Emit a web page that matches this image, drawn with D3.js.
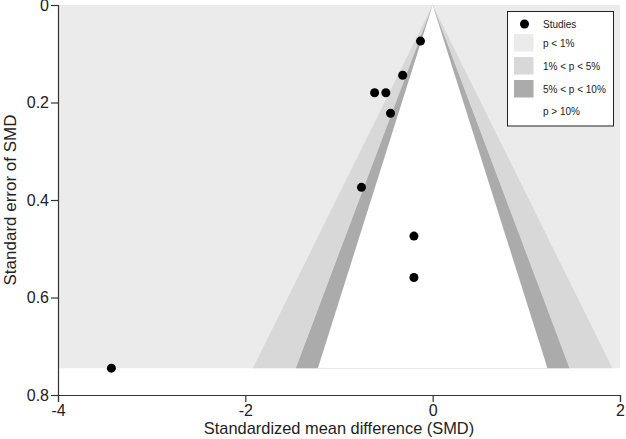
<!DOCTYPE html>
<html><head><meta charset="utf-8">
<script src="https://cdn.jsdelivr.net/npm/d3@7"></script>
<style>body{margin:0;background:#fff;} text{font-family:"Liberation Sans",Arial,sans-serif;}</style>
</head><body><svg id="c" width="626" height="439"></svg>
<script>
const studySMD = [-0.13, -0.32, -0.62, -0.50, -0.45, -0.76, -0.20, -0.20, -3.43];
const studySE  = [0.074, 0.144, 0.180, 0.180, 0.222, 0.374, 0.474, 0.559, 0.745];
const xTicks = [-4, -2, 0, 2];
const yTicks = [0, 0.2, 0.4, 0.6, 0.8];
const contourZ = [2.576, 1.96, 1.645];
const legendLabels = ["Studies", "p < 1%", "1% < p < 5%", "5% < p < 10%", "p > 10%"];
const fills = ["#ebebeb", "#d8d8d8", "#ababab", "#ffffff"];

const svg = d3.select("#c");
const x = d3.scaleLinear().domain([-4, 2]).range([58, 620]);
const y = d3.scaleLinear().domain([0, 0.8]).range([5, 395]);
const seMax = d3.max(studySE);

// background (p<1%)
svg.append("rect").attr("x", x(-4)).attr("y", y(0))
  .attr("width", x(2) - x(-4)).attr("height", y(seMax) - y(0)).attr("fill", fills[0]);

contourZ.forEach((z, i) => {
  const pts = [[0, 0], [-z * seMax, seMax], [z * seMax, seMax]];
  svg.append("polygon")
    .attr("points", pts.map(p => [x(p[0]), y(p[1])].join(",")).join(" "))
    .attr("fill", fills[i + 1]);
});

// axes
const xAxis = svg.append("g").attr("transform", `translate(0,${y(0.8)})`)
  .call(d3.axisBottom(x).tickValues(xTicks).tickFormat(d3.format("d")).tickSize(7).tickPadding(3));
const yAxis = svg.append("g").attr("transform", `translate(${x(-4)},0)`)
  .call(d3.axisLeft(y).tickValues(yTicks).tickFormat(d => d === 0 ? "0" : d3.format(".1f")(d)).tickSize(7).tickPadding(2));
[xAxis, yAxis].forEach(g => {
  g.select(".domain").attr("stroke", "#333").attr("stroke-width", 1.2);
  g.selectAll(".tick line").attr("stroke", "#333").attr("stroke-width", 1.2);
  g.selectAll(".tick text").attr("font-size", 16).attr("fill", "#222")
    .attr("font-family", '"Liberation Sans",Arial,sans-serif');
});
xAxis.selectAll(".tick text").text(d => d < 0 ? "-" + Math.abs(d) : d);

svg.append("text").attr("x", (x(-4) + x(2)) / 2).attr("y", 434).attr("text-anchor", "middle")
  .attr("font-size", 16.4).attr("fill", "#222").text("Standardized mean difference (SMD)");
svg.append("text").attr("transform", `translate(16,${(y(0) + y(0.8)) / 2}) rotate(-90)`)
  .attr("text-anchor", "middle").attr("font-size", 17).attr("fill", "#222").text("Standard error of SMD");

// points
svg.append("g").selectAll("circle").data(studySMD).join("circle")
  .attr("cx", d => x(d)).attr("cy", (d, i) => y(studySE[i])).attr("r", 4.5).attr("fill", "#000");

// legend
const lg = svg.append("g");
lg.append("rect").attr("x", 507.5).attr("y", 11.5).attr("width", 106).attr("height", 114.5)
  .attr("fill", "#fff").attr("stroke", "#222").attr("stroke-width", 1);
const rowY = [24, 43, 66, 89, 111.5];
lg.append("circle").attr("cx", 524.5).attr("cy", rowY[0]).attr("r", 4.5).attr("fill", "#000");
[1, 2, 3].forEach(i => {
  lg.append("rect").attr("x", 514).attr("y", rowY[i] - 9).attr("width", 19.5).attr("height", 17.5).attr("fill", fills[i - 1]);
});
legendLabels.forEach((t, i) => {
  lg.append("text").attr("x", 543).attr("y", rowY[i]).attr("dy", "0.35em")
    .attr("font-size", 10).attr("fill", "#222").text(t);
});
</script></body></html>
